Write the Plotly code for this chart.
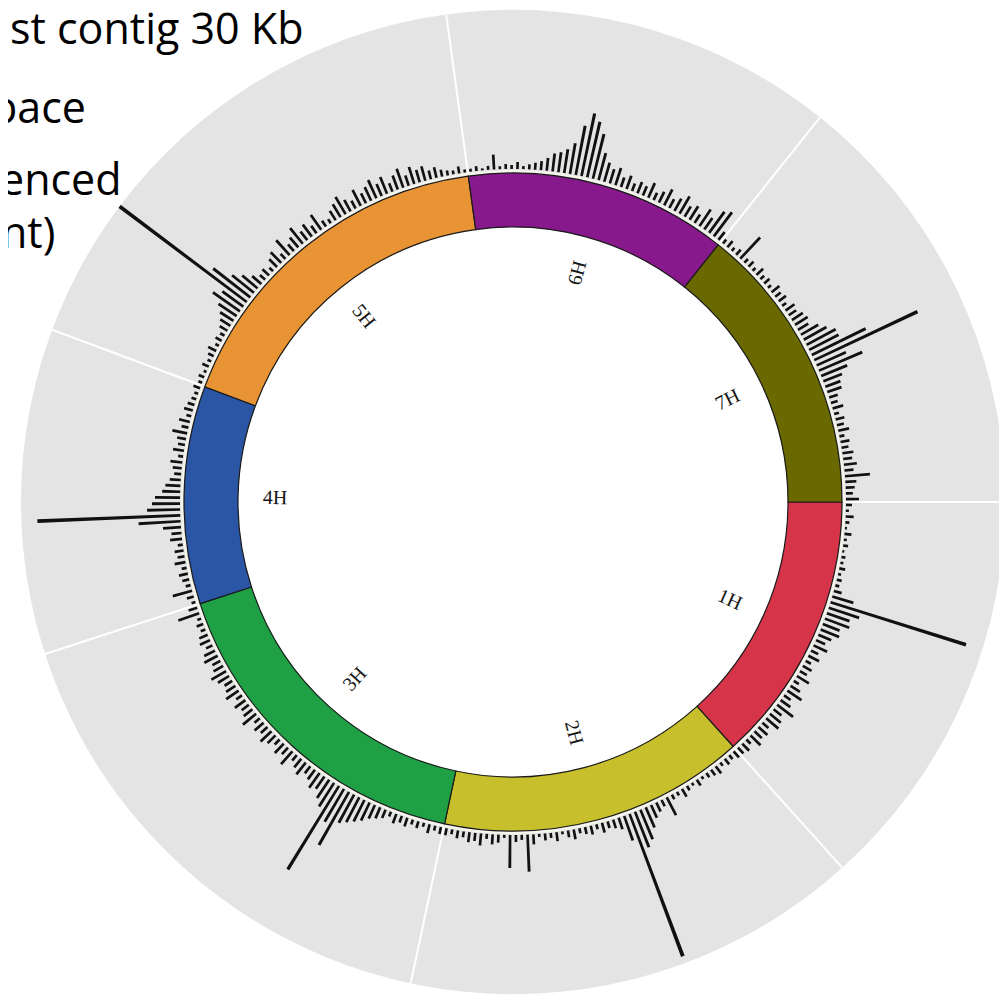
import numpy as np
import plotly.graph_objects as go

# ---------------- data ----------------
chromosomes = ["1H", "2H", "3H", "4H", "5H", "6H", "7H"]
chrom_len = [48.0, 54.0, 60.0, 38.5, 61.7, 46.4, 51.4]   # relative lengths (degrees of the circle)
chrom_colors = ["#d63448", "#c8bf2c", "#20a044", "#2b56a5", "#e89434", "#87198c", "#696900"]

# histogram heights along each chromosome (equal bins from start to end)
hist_1H = [6, 3, 8, 4, 2, 7, 3, 5, 2, 4, 3, 6, 3, 5, 4, 8, 22, 142, 32, 24, 26, 18, 20, 14, 10,
           15, 8, 12, 6, 10, 8, 14, 6, 11, 17, 8, 12, 20, 10, 14, 16, 8, 12, 10, 14, 6, 10, 8]
hist_2H = [8, 5, 7, 4, 9, 7, 5, 3, 7, 3, 5, 9, 4, 5, 20, 7, 10, 14, 22, 32, 38, 152, 26, 12, 9, 7,
           10, 5, 9, 7, 5, 10, 7, 3, 9, 5, 7, 3, 10, 37, 5, 7, 33, 3, 8, 10, 5, 12, 8, 10, 6, 8, 5, 7]
hist_3H = [7, 5, 9, 4, 7, 5, 9, 7, 10, 5, 9, 12, 15, 20, 24, 28, 32, 61, 38, 98, 28, 22, 15, 18,
           12, 9, 15, 11, 7, 17, 9, 13, 7, 11, 15, 9, 12, 7, 17, 11, 9, 13, 7, 15, 11, 9, 13, 17,
           11, 9, 15, 12, 7, 11, 9, 5, 7, 4, 22, 9]
hist_4H = [4, 7, 20, 5, 7, 9, 5, 11, 7, 9, 5, 12, 10, 18, 42, 143, 33, 28, 25, 18, 15, 11, 7, 9,
           12, 5, 11, 7, 9, 15, 7, 11, 5, 9, 7, 5, 4, 7]
hist_5H = [4, 6, 3, 7, 4, 6, 9, 4, 7, 5, 9, 12, 16, 22, 33, 26, 163, 47, 28, 20, 12, 7, 9, 5, 11,
           15, 7, 20, 9, 13, 20, 11, 15, 9, 18, 7, 5, 11, 15, 20, 13, 9, 18, 11, 15, 20, 13, 18, 9,
           15, 20, 11, 18, 13, 15, 9, 11, 7, 5, 4, 7, 3]
hist_6H = [3, 5, 2, 4, 15, 3, 5, 4, 7, 3, 5, 7, 9, 13, 18, 20, 24, 31, 50, 64, 57, 46, 28, 20, 15,
           18, 10, 14, 8, 12, 10, 16, 8, 12, 18, 10, 14, 20, 12, 16, 10, 20, 14, 26, 30, 10]
hist_7H = [5, 8, 4, 7, 29, 5, 7, 4, 9, 5, 7, 4, 10, 7, 9, 5, 11, 9, 13, 15, 12, 20, 26, 33, 33, 60,
           114, 32, 47, 28, 20, 16, 15, 9, 7, 11, 5, 9, 7, 11, 5, 9, 7, 11, 9, 13, 9, 25, 11, 9, 7, 13]
hist_all = [hist_1H, hist_2H, hist_3H, hist_4H, hist_5H, hist_6H, hist_7H]

slide_lines = ["st contig 30 Kb", "pace", "enced", "nt)"]

# ---------------- geometry / style ----------------
W, H = 1007, 1001
OFF = 8                                # default page margin of the browser body
CX, CY, RMAX = 513 - OFF, 502 - OFF, 492
INNER_R, OUTER_R, HIST_BASE = 275, 329, 333
LABEL_R = 238

dom_x = [(CX - RMAX) / W, (CX + RMAX) / W]
dom_y = [(H - CY - RMAX) / H, (H - CY + RMAX) / H]

starts = np.concatenate([[0.0], np.cumsum(chrom_len)[:-1]])
mids = starts + np.array(chrom_len) / 2

fig = go.Figure()

# white interior disk
fig.add_trace(go.Barpolar(r=[INNER_R, INNER_R], theta=[90, 270], width=[180, 180], base=0,
                          marker=dict(color="white", line=dict(width=0)), hoverinfo="skip"))

# chromosome ring
fig.add_trace(go.Barpolar(r=[OUTER_R - INNER_R] * len(chromosomes), theta=mids, width=chrom_len,
                          base=INNER_R,
                          marker=dict(color=chrom_colors, line=dict(color="#1a1a1a", width=1.2)),
                          hoverinfo="skip"))

# histogram
th, rr, ww = [], [], []
for s, L, vals in zip(starts, chrom_len, hist_all):
    n = len(vals)
    bw = L / n
    for i, v in enumerate(vals):
        th.append(s + (i + 0.5) * bw)
        rr.append(v)
        ww.append(bw * 0.45)
fig.add_trace(go.Barpolar(r=rr, theta=th, width=ww, base=HIST_BASE,
                          marker=dict(color="#111111", line=dict(width=0)), hoverinfo="skip"))

# chromosome labels (rotated, placed at segment midpoints)
cxp = (dom_x[0] + dom_x[1]) / 2
cyp = (dom_y[0] + dom_y[1]) / 2
rxp = (dom_x[1] - dom_x[0]) / 2
ryp = (dom_y[1] - dom_y[0]) / 2
annotations = []
for name, m in zip(chromosomes, mids):
    a = np.deg2rad(m)
    x = cxp + LABEL_R / RMAX * rxp * np.cos(a)
    y = cyp - LABEL_R / RMAX * ryp * np.sin(a)
    ang = m if np.cos(a) >= 0 else m - 180
    if ang > 180:
        ang -= 360
    annotations.append(dict(x=x, y=y, xref="paper", yref="paper", text=name, showarrow=False,
                            textangle=ang, xanchor="center", yanchor="middle",
                            font=dict(family="Liberation Serif, DejaVu Serif, serif", size=20,
                                      color="#151515")))

# cut-off slide text at top-left
line_right = [306, 88, 124, 57]
line_mid = [27, 106, 178, 232]
for t, xr, ym in zip(slide_lines, line_right, line_mid):
    annotations.append(dict(x=(xr - OFF) / W, y=1 - (ym - OFF) / H, xref="paper", yref="paper",
                            text=t, showarrow=False, xanchor="right", yanchor="middle",
                            font=dict(family="Open Sans, Lato, sans-serif", size=43, color="#000000")))

fig.update_layout(
    width=W, height=H,
    margin=dict(l=0, r=0, t=0, b=0, pad=0),
    paper_bgcolor="white",
    showlegend=False,
    annotations=annotations,
    polar=dict(
        domain=dict(x=dom_x, y=dom_y),
        bgcolor="#e4e4e4",
        barmode="overlay",
        radialaxis=dict(range=[0, RMAX], showticklabels=False, ticks="", showline=False,
                        tickvals=[331], showgrid=True, gridcolor="#f6f6ec", gridwidth=1.5),
        angularaxis=dict(rotation=0, direction="clockwise", tickvals=list(starts),
                         showticklabels=False, ticks="", showline=False,
                         showgrid=True, gridcolor="white", gridwidth=2),
    ),
)

fig.write_html("out.html")
